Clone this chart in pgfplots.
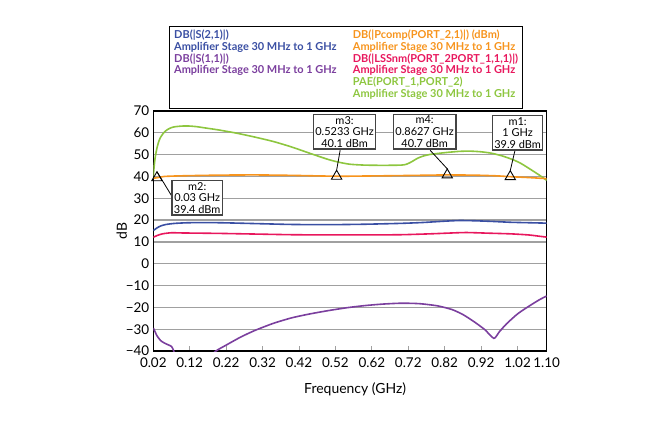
\documentclass[border=0pt]{standalone}
\usepackage{pgfplots}
\pgfplotsset{compat=1.18}
\usepackage{fontspec}
\setmainfont{Lato}
\definecolor{cblue}{HTML}{3A4FA3}
\definecolor{cpurple}{HTML}{7B3F9E}
\definecolor{corange}{HTML}{F7941D}
\definecolor{cred}{HTML}{E8175D}
\definecolor{cgreen}{HTML}{8DC63F}
\definecolor{cgrid}{HTML}{A0A0A0}
\definecolor{cbox}{HTML}{444444}
\begin{document}
\begin{tikzpicture}
\useasboundingbox (-153.3bp,-85bp) rectangle (496.7bp,351bp);
\begin{axis}[
  at={(0,0)}, anchor=south west,
  scale only axis, width=393.4bp, height=240bp,
  xmin=0.02, xmax=1.10, ymin=-40, ymax=70,
  xtick={0.02,0.12,0.22,0.32,0.42,0.52,0.62,0.72,0.82,0.92,1.02,1.10},
  xticklabels={0.02,0.12,0.22,0.32,0.42,0.52,0.62,0.72,0.82,0.92,1.02,1.10},
  ytick={-40,-30,-20,-10,0,10,20,30,40,50,60,70},
  yticklabels={−40,−30,−20,−10,0,10,20,30,40,50,60,70},
  ticklabel style={font=\fontsize{13.5}{13.5}\selectfont},
  xticklabel style={yshift=-3bp},
  yticklabel style={xshift=-0.5bp},
  xtick pos=bottom, ytick pos=left,
  xtick style={cgrid, line width=1bp},
  ytick style={draw=none},
  major tick length=5bp,
  ymajorgrids, grid style={cgrid, line width=1.2bp},
  axis line style={black, line width=1.3bp},
  xlabel={Frequency (GHz)}, ylabel={dB},
  label style={font=\fontsize{14}{14}\selectfont},
  xlabel style={at={(axis description cs:0.513,0)}, anchor=base, yshift=-42bp},
  ylabel style={at={(axis description cs:0,0.5)}, anchor=center, yshift=31.6bp},
  every axis plot/.append style={line width=1.6bp, smooth, tension=0.4},
]
% PAE
\addplot[cgreen] coordinates {(0.02,40) (0.022,44) (0.025,48.5) (0.03,53) (0.035,56) (0.04,58) (0.05,60.3) (0.06,61.6) (0.07,62.4) (0.08,62.8) (0.1,63.1) (0.12,63.1) (0.14,62.8) (0.16,62.3) (0.2,61.3) (0.25,59.8) (0.3,58.0) (0.35,56.0) (0.4,53.5) (0.45,50.6) (0.5,47.8) (0.53,46.5) (0.56,45.6) (0.6,45.2) (0.65,45.1) (0.70,45.2) (0.715,45.6) (0.73,46.8) (0.745,48.3) (0.76,49.3) (0.78,50.1) (0.82,50.9) (0.86,51.5) (0.89,51.6) (0.92,51.3) (0.95,50.6) (0.98,49.3) (1.01,47.5) (1.03,45.9) (1.055,43.3) (1.08,40.6) (1.1,38.2)};
% Pcomp
\addplot[corange] coordinates {(0.02,39.2) (0.03,39.4) (0.05,40.0) (0.1,40.3) (0.2,40.6) (0.3,40.7) (0.4,40.5) (0.5233,40.1) (0.6,40.2) (0.7,40.4) (0.78,40.6) (0.827,40.7) (0.9,40.6) (0.96,40.3) (1.0,39.9) (1.05,39.5) (1.1,39.0)};
% S21
\addplot[cblue] coordinates {(0.02,15.2) (0.03,16.4) (0.04,17.3) (0.055,18.0) (0.08,18.5) (0.12,18.8) (0.2,18.8) (0.3,18.4) (0.4,18.0) (0.5,17.9) (0.6,18.1) (0.7,18.5) (0.76,18.9) (0.82,19.5) (0.86,19.8) (0.9,19.7) (0.95,19.4) (1.0,19.0) (1.05,18.8) (1.1,18.6)};
% LSSnm
\addplot[cred] coordinates {(0.02,12.1) (0.03,12.9) (0.045,13.7) (0.07,14.2) (0.1,14.1) (0.2,13.9) (0.3,13.6) (0.4,13.3) (0.5,13.2) (0.6,13.2) (0.7,13.3) (0.78,13.7) (0.84,14.1) (0.88,14.3) (0.94,14.0) (1.0,13.7) (1.05,13.2) (1.08,12.6) (1.1,12.2)};
% S11
\addplot[cpurple] coordinates {(0.02,-29.5) (0.025,-31.2) (0.03,-33) (0.04,-35.2) (0.05,-36.3) (0.06,-37.1) (0.07,-37.9) (0.075,-39.5) (0.08,-41.5) (0.1,-45) (0.13,-46.5) (0.16,-44.5) (0.192,-40) (0.22,-37.3) (0.26,-33.6) (0.3,-30.5) (0.35,-27.3) (0.4,-24.8) (0.45,-23.0) (0.5,-21.5) (0.55,-20.2) (0.6,-19.2) (0.65,-18.5) (0.7,-18.1) (0.75,-18.3) (0.8,-19.3) (0.84,-21.0) (0.87,-23.3) (0.9,-26.5) (0.93,-30.2) (0.955,-34.2) (0.97,-31.2) (0.99,-27.5) (1.02,-23.0) (1.05,-19.6) (1.08,-16.5) (1.1,-14.8)};
% marker leader lines
\draw[black, line width=0.8bp] (axis cs:0.03,42.2) -- (axis cs:0.0715,30.8);
\draw[black, line width=0.8bp] (axis cs:0.5233,42.9) -- (axis cs:0.533,52);
\draw[black, line width=0.8bp] (axis cs:0.827,43.5) -- (axis cs:0.78,52);
\draw[black, line width=0.8bp] (axis cs:1.0,42.7) -- (axis cs:1.013,52);
% markers
\addplot[only marks, black, mark=triangle, mark size=6bp, line width=0.9bp, mark options={fill=none}] coordinates {(0.03,39.4) (0.5233,40.1) (0.827,40.7) (1.0,39.9)};
% marker boxes
\tikzset{mbox/.style={draw=cbox, fill=white, line width=1.3bp, align=center, inner xsep=2bp, inner ysep=1.5bp, font=\fontsize{11}{11.7}\selectfont}}
\node[mbox] at (axis cs:0.545,60.5) {m3:\\0.5233 GHz\\40.1 dBm};
\node[mbox] at (axis cs:0.765,60.5) {m4:\\0.8627 GHz\\40.7 dBm};
\node[mbox] at (axis cs:1.020,60.0) {m1:\\1 GHz\\39.9 dBm};
\node[mbox] at (axis cs:0.1405,30.2) {m2:\\0.03 GHz\\39.4 dBm};
\end{axis}
% legend
\draw[black, line width=1.5bp] (16bp,242.7bp) rectangle (369.4bp,324.3bp);
\node[anchor=north west, inner sep=0pt, align=left, font=\bfseries\fontsize{11}{11.94}\selectfont] at (20.7bp,321.5bp)
 {\textcolor{cblue}{DB(|S(2,1)|)}\\\textcolor{cblue}{Amplifier Stage 30 MHz to 1 GHz}\\\textcolor{cpurple}{DB(|S(1,1)|)}\\\textcolor{cpurple}{Amplifier Stage 30 MHz to 1 GHz}};
\node[anchor=north west, inner sep=0pt, align=left, font=\bfseries\fontsize{11}{11.94}\selectfont] at (199.4bp,321.5bp)
 {\textcolor{corange}{DB(|Pcomp(PORT\_2,1)|) (dBm)}\\\textcolor{corange}{Amplifier Stage 30 MHz to 1 GHz}\\\textcolor{cred}{DB(|LSSnm(PORT\_2PORT\_1,1,1)|)}\\\textcolor{cred}{Amplifier Stage 30 MHz to 1 GHz}\\\textcolor{cgreen}{PAE(PORT\_1,PORT\_2)}\\\textcolor{cgreen}{Amplifier Stage 30 MHz to 1 GHz}};
\end{tikzpicture}
\end{document}
